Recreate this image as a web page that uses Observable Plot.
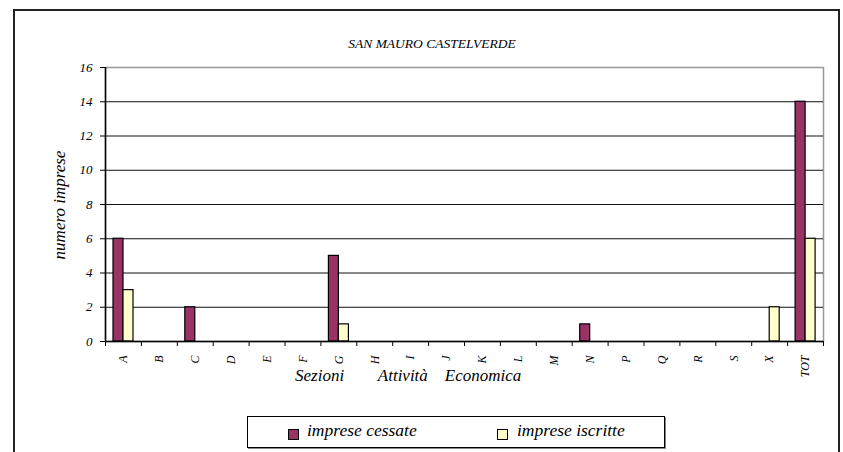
<!DOCTYPE html>
<html>
<head>
<meta charset="utf-8">
<script src="https://cdn.jsdelivr.net/npm/d3@7"></script>
<script src="https://cdn.jsdelivr.net/npm/@observablehq/plot@0.6"></script>
<style>
  html, body { margin: 0; padding: 0; background: #fff; }
  #wrap { position: relative; width: 843px; height: 452px; overflow: hidden; font-family: "Liberation Serif", "Times New Roman", Times, serif; font-style: italic; }
  #border { position: absolute; left: 13px; top: 9px; width: 827px; height: 470px; border: 2px solid #222; box-sizing: border-box; }
  #chart { position: absolute; left: 0; top: 0; }
  .txt { position: absolute; white-space: pre; color: #000; }
  #title { left: 0; width: 864px; top: 36px; text-align: center; font-size: 13.5px; }
  #ylab { left: 60px; top: 205px; font-size: 17px; transform: translate(-50%, -50%) rotate(-90deg); }
  #xlab { left: 295px; top: 366px; font-size: 17px; }
  #legend { position: absolute; left: 247px; top: 416px; width: 418px; height: 32px; border: 1px solid #000; box-sizing: border-box; background: #fff; box-shadow: 1px 1px 0 #888; }
  .sw { position: absolute; top: 12px; width: 11px; height: 11px; border: 1.5px solid #000; box-sizing: border-box; }
  .lt { position: absolute; top: 3px; font-size: 17.5px; white-space: pre; }
</style>
</head>
<body>
<div id="wrap">
  <div id="border"></div>
  <div id="chart"></div>
  <div class="txt" id="title"></div>
  <div class="txt" id="ylab"></div>
  <div class="txt" id="xlab"></div>
  <div id="legend"></div>
</div>
<script>
const categories = ["A","B","C","D","E","F","G","H","I","J","K","L","M","N","P","Q","R","S","X","TOT"];
const cessate   = [6,0,2,0,0,0,5,0,0,0,0,0,0,1,0,0,0,0,0,14];
const iscritte  = [3,0,0,0,0,0,1,0,0,0,0,0,0,0,0,0,0,0,2,6];
const seriesNames = ["imprese cessate", "imprese iscritte"];
const seriesColors = ["#993366", "#FFFFCC"];
const yTicks = [0,2,4,6,8,10,12,14,16];
const titleText = "SAN MAURO CASTELVERDE";
const yLabelText = "numero imprese";
const xLabelText = "Sezioni        Attività    Economica";

const W = 843, H = 452;
const mL = 105, mR = 20, mT = 67, mB = 111;
const band = (W - mL - mR) / categories.length;
const FONT = "'Liberation Serif', 'Times New Roman', Times, serif";

const cessData = categories.map((c, i) => ({cat: c, v: cessate[i]})).filter(d => d.v > 0);
const iscrData = categories.map((c, i) => ({cat: c, v: iscritte[i]})).filter(d => d.v > 0);

const plot = Plot.plot({
  width: W, height: H,
  marginLeft: mL, marginRight: mR, marginTop: mT, marginBottom: mB,
  style: {fontFamily: FONT, fontStyle: "italic", background: "transparent", overflow: "visible"},
  x: {type: "band", domain: categories, padding: 0, round: false, axis: null},
  y: {domain: [0, 16], axis: null},
  marks: [
    Plot.frame({stroke: "#999", strokeWidth: 1.5}),
    Plot.ruleY(yTicks.filter(t => t > 0 && t < 16), {stroke: "#111", strokeWidth: 1}),
    Plot.barY(cessData, {x: "cat", y: "v", fill: seriesColors[0], stroke: "#000", strokeWidth: 1.2,
      insetLeft: 8, insetRight: band - 18}),
    Plot.barY(iscrData, {x: "cat", y: "v", fill: seriesColors[1], stroke: "#000", strokeWidth: 1.2,
      insetLeft: 18, insetRight: band - 28}),
    Plot.ruleY([0], {stroke: "#000", strokeWidth: 1.5}),
    Plot.ruleX([categories[0]], {x: d => d, dx: -band / 2, y1: 0, y2: 16, stroke: "#000", strokeWidth: 1.5}),
    Plot.axisY({ticks: yTicks, tickSize: 5, tickPadding: 8, fontSize: 13, label: null, stroke: "#000"}),
    Plot.axisX({ticks: categories, tickSize: 5, dx: -band / 2, tickFormat: () => "", label: null}),
    Plot.axisX({ticks: [categories[categories.length - 1]], tickSize: 5, dx: band / 2, tickFormat: () => "", label: null}),
    Plot.axisX({ticks: categories, tickSize: 0, tickPadding: 14, tickRotate: -90, fontSize: 12, label: null})
  ]
});
document.getElementById("chart").appendChild(plot);

document.getElementById("title").textContent = titleText;
document.getElementById("ylab").textContent = yLabelText;
document.getElementById("xlab").textContent = xLabelText;

const legend = document.getElementById("legend");
const swX = [40, 249], txX = [59, 269];
seriesNames.forEach((name, i) => {
  const sw = document.createElement("div");
  sw.className = "sw";
  sw.style.left = swX[i] + "px";
  sw.style.background = seriesColors[i];
  legend.appendChild(sw);
  const t = document.createElement("div");
  t.className = "lt";
  t.style.left = txX[i] + "px";
  t.textContent = name;
  legend.appendChild(t);
});
</script>
</body>
</html>
